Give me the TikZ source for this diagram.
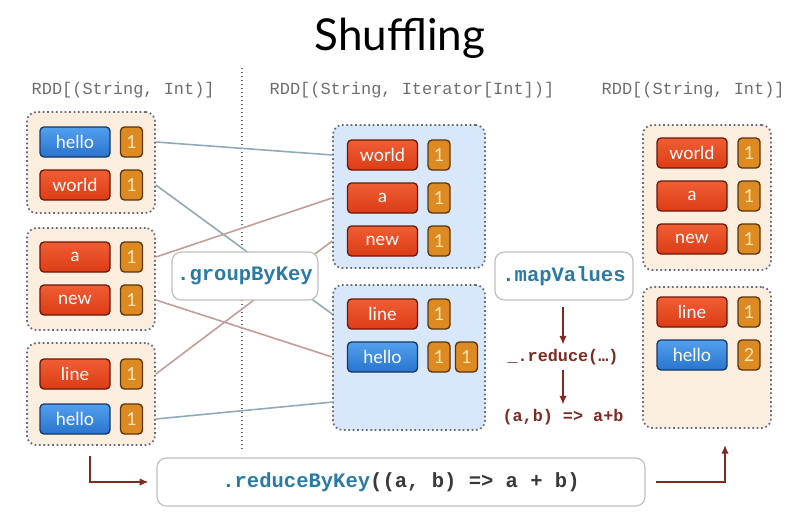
\documentclass[tikz,border=0pt]{standalone}
\usepackage{fontspec}
\setmainfont{Lato}
\setmonofont{Liberation Mono}
\usetikzlibrary{arrows.meta}
\definecolor{wordred}{HTML}{DC3C16}
\definecolor{wordredtop}{HTML}{F05E34}
\definecolor{wordredline}{HTML}{6A1806}
\definecolor{wordblue}{HTML}{2A74CE}
\definecolor{wordbluetop}{HTML}{52A0EE}
\definecolor{wordblueline}{HTML}{163864}
\definecolor{countorange}{HTML}{DE8A22}
\definecolor{countline}{HTML}{5A340C}
\definecolor{counttext}{HTML}{FAE8B4}
\definecolor{beige}{HTML}{FCEEDF}
\definecolor{paleblue}{HTML}{D9E7FA}
\definecolor{dotgray}{HTML}{646C7E}
\definecolor{linkblue}{HTML}{90AABA}
\definecolor{linkred}{HTML}{C49C98}
\definecolor{codeblue}{HTML}{2A7AA6}
\definecolor{codedark}{HTML}{3A3A3A}
\definecolor{codered}{HTML}{7C2A22}
\definecolor{labelgray}{HTML}{6E6E6E}

\begin{document}
\begin{tikzpicture}[x=0.75pt,y=-0.75pt,
  word/.style={rounded corners=3pt,draw=wordredline,line width=1pt,top color=wordredtop,bottom color=wordred,
    text=white,minimum width=52.5pt,minimum height=22.5pt,inner sep=0pt,font=\fontsize{13.5}{13.5}\selectfont},
  keyword/.style={word,draw=wordblueline,top color=wordbluetop,bottom color=wordblue},
  count/.style={rounded corners=3pt,draw=countline,line width=1pt,fill=countorange,text=counttext,
    minimum width=16.5pt,minimum height=22.5pt,inner sep=0pt,font=\fontsize{13.5}{13.5}\selectfont},
  part/.style={rounded corners=7pt,draw=dotgray,dotted,line width=1.3pt,inner sep=0pt,minimum width=96pt},
  op/.style={rounded corners=7pt,draw=black!25,fill=white,line width=0.9pt,minimum height=36pt,
    font=\ttfamily\bfseries\fontsize{15.4}{16}\selectfont},
  rdd/.style={anchor=west,text=labelgray,font=\ttfamily\fontsize{12.7}{13}\selectfont},
  reducestep/.style={text=codered,font=\ttfamily\bfseries\fontsize{12.6}{13}\selectfont},
  flow/.style={draw=codered,line width=1pt,-{Latex[length=6.5pt,width=5.5pt]}}]
\useasboundingbox (0,0) rectangle (800,518);

% title and types
\node (title) at (400,38) {\fontsize{33}{36}\selectfont Shuffling};
\node[rdd] (T_in) at (27,90) {RDD[(String, Int)]};
\node[rdd] (T_mid) at (265,90) {RDD[(String, Iterator[Int])]};
\node[rdd] (T_out) at (597,90) {RDD[(String, Int)]};

% input partitions
\node[part,fill=beige,minimum height=75.75pt] (P_1) at (91,162.5) {};
\node[part,fill=beige,minimum height=76.5pt] (P_2) at (91,279) {};
\node[part,fill=beige,minimum height=76.5pt] (P_3) at (91,394) {};
\node[keyword] (L_hello1) at (75,142) {hello};
\node[count] (L_c1) at (131.5,142) {1};
\node[word] (L_world) at (75,185) {world};
\node[count] (L_c2) at (131.5,185) {1};
\node[word] (L_a) at (75,257) {a};
\node[count] (L_c3) at (131.5,257) {1};
\node[word] (L_new) at (75,300) {new};
\node[count] (L_c4) at (131.5,300) {1};
\node[word] (L_line) at (75,374) {line};
\node[count] (L_c5) at (131.5,374) {1};
\node[keyword] (L_hello2) at (75,419) {hello};
\node[count] (L_c6) at (131.5,419) {1};

% grouped partitions
\node[part,fill=paleblue,minimum width=114pt,minimum height=107.25pt] (G_1) at (409,196.5) {};
\node[part,fill=paleblue,minimum width=114pt,minimum height=108.75pt] (G_2) at (409,357.5) {};
\node[word] (M_world) at (382.5,155) {world};
\node[count] (M_c1) at (439,155) {1};
\node[word] (M_a) at (382.5,198) {a};
\node[count] (M_c2) at (439,198) {1};
\node[word] (M_new) at (382.5,241) {new};
\node[count] (M_c3) at (439,241) {1};
\node[word] (M_line) at (382.5,314) {line};
\node[count] (M_c4) at (439,314) {1};
\node[keyword] (M_hello) at (382.5,357) {hello};
\node[count] (M_c5) at (439,357) {1};
\node[count] (M_c6) at (466.5,357) {1};
\coordinate (M_low) at (333,402);

% reduced partitions
\node[part,fill=beige,minimum height=108.75pt] (R_1) at (707,197.5) {};
\node[part,fill=beige,minimum height=105.75pt] (R_2) at (707,357.5) {};
\node[word] (R_world) at (692,153) {world};
\node[count] (R_c1) at (749,153) {1};
\node[word] (R_a) at (692,196) {a};
\node[count] (R_c2) at (749,196) {1};
\node[word] (R_new) at (692,239) {new};
\node[count] (R_c3) at (749,239) {1};
\node[word] (R_line) at (692,312) {line};
\node[count] (R_c4) at (749,312) {1};
\node[keyword] (R_hello) at (692,355) {hello};
\node[count] (R_c5) at (749,355) {2};

% shuffle links
\draw[dotgray,dotted,line width=1pt] (242,68) -- (242,452);
\draw[linkblue,line width=1.2pt] (P_1.east |- L_hello1) -- (G_1.west |- M_world);
\draw[linkblue,line width=1.2pt] (P_1.east |- L_world) -- (G_2.west |- M_line);
\draw[linkred,line width=1.2pt] (P_2.east |- L_a) -- (G_1.west |- M_a);
\draw[linkred,line width=1.2pt] (P_2.east |- L_new) -- (G_2.west |- M_hello);
\draw[linkred,line width=1.2pt] (P_3.east |- L_line) -- (G_1.west |- M_new);
\draw[linkblue,line width=1.2pt] (P_3.east |- L_hello2) -- (M_low);

% operations
\node[op,minimum width=109.5pt] (O_group) at (245,276) {\color{codeblue}.groupByKey};
\node[op,minimum width=103.5pt] (O_map) at (564,276) {\color{codeblue}.mapValues};
\node[reducestep] (S_reduce) at (563,357) {\_.reduce(…)};
\node[reducestep] (S_sum) at (563,417) {(a,b) => a+b};
\draw[flow] (563,307) -- (S_reduce.north);
\draw[flow] (S_reduce.south) -- (S_sum.north);
\node[op,minimum width=366pt] (O_reduce) at (401,482) {{\color{codeblue}.reduceByKey}{\color{codedark}((a, b) => a + b)}};
\coordinate (A_in) at (90,456);
\coordinate (A_out) at (725,445);
\draw[flow] (A_in) |- ([xshift=-6pt]O_reduce.west);
\draw[flow] ([xshift=8pt]O_reduce.east) -| (A_out);
\end{tikzpicture}
\end{document}
